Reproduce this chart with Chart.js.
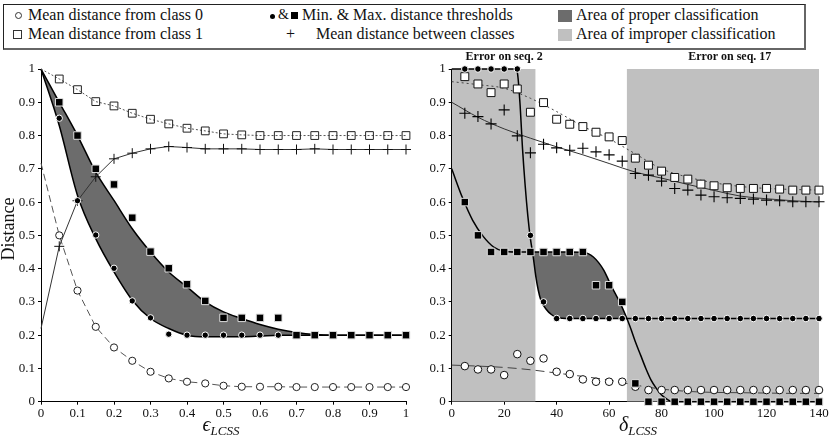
<!DOCTYPE html>
<html>
<head>
<meta charset="utf-8">
<title>LCSS distance thresholds</title>
<script src="https://cdn.jsdelivr.net/npm/chart.js@4.4.1/dist/chart.umd.min.js"></script>
<style>
  html, body { margin: 0; padding: 0; background: #fff; }
  body { position: relative; width: 830px; height: 437px; overflow: hidden; font-family: "Liberation Serif", "Times New Roman", serif; color: #111; }
  .panel { position: absolute; top: 0; width: 415px; height: 437px; }
  .box { position: absolute; left: 3px; top: 4px; width: 800px; height: 43px; border: 1px solid #222; border-right: 2px solid #666; border-bottom: 2px solid #666; }
  .lab { position: absolute; font-size: 16px; line-height: 18px; white-space: nowrap; }
  .sym { position: absolute; box-sizing: border-box; }
  .xtitle { position: absolute; width: 120px; text-align: center; white-space: nowrap; font-style: italic; font-size: 20px; line-height: 20px; }
  .xtitle sub { font-size: 13px; vertical-align: -4px; }
  .ytitle { position: absolute; width: 90px; text-align: center; font-size: 18px; line-height: 20px; transform: rotate(-90deg); }
</style>
</head>
<body>
<div class="box"></div>
<span class="sym" style="left:15px;top:12px;width:7px;height:7px;border:1px solid #333;border-radius:50%"></span>
<span class="lab" style="left:28px;top:6px">Mean distance from class 0</span>
<span class="sym" style="left:13px;top:30px;width:9px;height:9px;border:1px solid #333"></span>
<span class="lab" style="left:28px;top:25px">Mean distance from class 1</span>
<span class="sym" style="left:270px;top:14px;width:5px;height:5px;background:#000;border-radius:50%"></span>
<span class="lab" style="left:278px;top:6px;font-size:14px">&amp;</span>
<span class="sym" style="left:291px;top:12px;width:7px;height:7px;background:#000"></span>
<span class="lab" style="left:302px;top:6px">Min. &amp; Max. distance thresholds</span>
<span class="lab" style="left:286px;top:25px">+</span>
<span class="lab" style="left:316px;top:25px">Mean distance between classes</span>
<span class="sym" style="left:558px;top:10px;width:14px;height:12px;background:#6c6c6c"></span>
<span class="lab" style="left:576px;top:6px">Area of proper classification</span>
<span class="sym" style="left:558px;top:29px;width:14px;height:12px;background:#c0c0c0"></span>
<span class="lab" style="left:576px;top:25px">Area of improper classification</span>

<div class="panel" style="left:0"><canvas id="epsChart" width="415" height="437"></canvas></div>
<div class="panel" style="left:415px"><canvas id="deltaChart" width="415" height="437"></canvas></div>

<div class="ytitle" style="left:-37px;top:219px">Distance</div>
<div class="xtitle" style="left:161px;top:414px">&#x3F5;<sub>LCSS</sub></div>
<div class="xtitle" style="left:578px;top:414px">&delta;<sub>LCSS</sub></div>

<script>
// ---- left panel: epsilon_LCSS ----
const epsX = [0, 0.05, 0.1, 0.15, 0.2, 0.25, 0.3, 0.35, 0.4, 0.45, 0.5, 0.55, 0.6, 0.65, 0.7, 0.75, 0.8, 0.85, 0.9, 0.95, 1];
const epsClass0 = [0.717, 0.50, 0.334, 0.225, 0.163, 0.123, 0.09, 0.07, 0.06, 0.055, 0.048, 0.045, 0.045, 0.045, 0.044, 0.044, 0.044, 0.044, 0.044, 0.044, 0.044];
const epsClass1 = [1.0, 0.97, 0.938, 0.902, 0.889, 0.867, 0.849, 0.835, 0.822, 0.814, 0.805, 0.802, 0.80, 0.80, 0.80, 0.80, 0.80, 0.80, 0.80, 0.80, 0.80];
const epsBetween = [0.22, 0.467, 0.604, 0.676, 0.73, 0.747, 0.76, 0.767, 0.764, 0.76, 0.76, 0.76, 0.758, 0.758, 0.758, 0.76, 0.758, 0.758, 0.758, 0.758, 0.758];
const epsMin = [null, 0.852, 0.604, 0.501, 0.401, 0.303, 0.252, 0.203, 0.2, 0.2, 0.2, 0.2, 0.2, 0.2, 0.2, 0.2, 0.2, 0.2, 0.2, 0.2, 0.2];
const epsMax = [null, 0.9, 0.8, 0.7, 0.653, 0.553, 0.451, 0.401, 0.353, 0.303, 0.252, 0.252, 0.252, 0.252, 0.2, 0.2, 0.2, 0.2, 0.2, 0.2, 0.2];
// fitted threshold curves bounding the proper-classification area
const epsLower = [1.0, 0.83, 0.62, 0.49, 0.39, 0.305, 0.25, 0.22, 0.2, 0.195, 0.195, 0.195, 0.197, 0.2, 0.2, 0.2, 0.2, 0.2, 0.2, 0.2, 0.2];
const epsUpper = [1.0, 0.9, 0.8, 0.69, 0.605, 0.52, 0.45, 0.39, 0.345, 0.3, 0.27, 0.25, 0.232, 0.218, 0.208, 0.202, 0.2, 0.2, 0.2, 0.2, 0.2];

// ---- right panel: delta_LCSS ----
const deltaX = [5, 10, 15, 20, 25, 30, 35, 40, 45, 50, 55, 60, 65, 70, 75, 80, 85, 90, 95, 100, 105, 110, 115, 120, 125, 130, 135, 140];
const deltaClass0 = [0.107, 0.097, 0.097, 0.08, 0.143, 0.123, 0.13, 0.09, 0.083, 0.067, 0.06, 0.06, 0.06, 0.045, 0.035, 0.035, 0.035, 0.035, 0.035, 0.035, 0.035, 0.035, 0.035, 0.035, 0.035, 0.035, 0.035, 0.035];
const deltaClass1 = [0.977, 0.955, 0.929, 0.955, 0.94, 0.87, 0.899, 0.849, 0.834, 0.827, 0.81, 0.796, 0.785, 0.732, 0.711, 0.693, 0.674, 0.669, 0.654, 0.649, 0.643, 0.641, 0.641, 0.641, 0.639, 0.636, 0.636, 0.636];
const deltaBetween = [0.867, 0.857, 0.835, 0.877, 0.799, 0.748, 0.774, 0.763, 0.756, 0.762, 0.751, 0.742, 0.723, 0.686, 0.681, 0.663, 0.641, 0.636, 0.621, 0.616, 0.613, 0.611, 0.609, 0.606, 0.604, 0.601, 0.601, 0.601];
const deltaMin = [1, 1, 1, 1, 1, 0.5, 0.3, 0.25, 0.25, 0.25, 0.25, 0.25, 0.25, 0.25, 0.25, 0.25, 0.25, 0.25, 0.25, 0.25, 0.25, 0.25, 0.25, 0.25, 0.25, 0.25, 0.25, 0.25];
const deltaMax = [0.6, 0.5, 0.45, 0.45, 0.45, 0.45, 0.45, 0.45, 0.45, 0.45, 0.35, 0.35, 0.3, 0.055, 0, 0, 0, 0, 0, 0, 0, 0, 0, 0, 0, 0, 0, 0];

// fitted mean-distance curves
const deltaFitX = [0, 10, 20, 30, 40, 50, 60, 70, 80, 90, 100, 110, 120, 130, 140];
const deltaFitClass0 = [0.11, 0.107, 0.103, 0.096, 0.086, 0.076, 0.065, 0.05, 0.038, 0.031, 0.028, 0.027, 0.026, 0.025, 0.025];
const deltaFitClass1 = [0.962, 0.953, 0.942, 0.912, 0.872, 0.828, 0.79, 0.745, 0.70, 0.675, 0.658, 0.647, 0.641, 0.638, 0.636];
const deltaFitBetween = [0.90, 0.855, 0.82, 0.792, 0.766, 0.742, 0.716, 0.69, 0.672, 0.653, 0.635, 0.618, 0.61, 0.604, 0.60];

// fitted threshold curves
const deltaCurveX = [0, 4, 8, 12, 16, 20, 24, 25, 26, 27, 28, 29, 30, 31, 32, 33, 34, 36, 38, 40, 45, 50, 52, 54, 56, 58, 60, 62, 64, 66, 68, 70, 72, 74, 76, 78, 80, 82, 84, 90, 100, 110, 120, 130, 140];
const deltaLower = [1, 1, 1, 1, 1, 1, 1, 0.99, 0.9, 0.76, 0.65, 0.56, 0.49, 0.44, 0.38, 0.335, 0.305, 0.278, 0.262, 0.253, 0.25, 0.25,
  0.25, 0.25, 0.25, 0.25, 0.25, 0.25, 0.25, 0.25, 0.25, 0.25, 0.25, 0.25, 0.25, 0.25, 0.25, 0.25, 0.25, 0.25, 0.25, 0.25, 0.25, 0.25, 0.25];
const deltaUpper = [0.70, 0.615, 0.545, 0.497, 0.465, 0.452, 0.45, 0.45, 0.45, 0.45, 0.45, 0.45, 0.45, 0.45, 0.45, 0.45, 0.45, 0.45, 0.45, 0.45, 0.45, 0.449,
  0.445, 0.435, 0.418, 0.395, 0.362, 0.33, 0.30, 0.265, 0.225, 0.18, 0.14, 0.10, 0.065, 0.04, 0.02, 0.008, 0, 0, 0, 0, 0, 0, 0];

// misclassification zones and their captions
const errorZones = [[0, 32], [66.7, 140]];
const errorTexts = ['Error on seq. 2', 'Error on seq. 17'];
const errorTextX = [20, 106];

const yTicks = [0, 0.1, 0.2, 0.3, 0.4, 0.5, 0.6, 0.7, 0.8, 0.9, 1];

const DARK = '#6c6c6c';
const LIGHT = '#c0c0c0';

Chart.defaults.font.family = '"Liberation Serif", serif';
Chart.defaults.color = '#111';

function pts(xs, ys) {
    return xs.map((x, i) => ({ x: x, y: ys[i] }));
}

function axis(min, max, step, size, horizontal) {
    return {
        type: 'linear',
        min: min,
        max: max,
        afterFit: function(scale) {
            if (horizontal) scale.height = 35.3;
            else scale.width = size;
        },
        afterBuildTicks: horizontal ? undefined : function(scale) {
            scale.ticks = yTicks.map(v => ({ value: v }));
        },
        ticks: {
            stepSize: step,
            padding: horizontal ? 1 : 3,
            color: '#111',
            font: { size: 13 },
            callback: v => String(Math.round(v * 100) / 100)
        },
        grid: { display: true, drawOnChartArea: false, drawTicks: true, tickLength: 3, color: '#000' },
        border: { display: true, color: '#000', width: 1 }
    };
}

function curve(xs, ys, extra) {
    return Object.assign({
        data: pts(xs, ys),
        borderColor: '#000',
        borderWidth: 1.5,
        pointRadius: 0,
        fill: false,
        cubicInterpolationMode: 'monotone',
        clip: false
    }, extra);
}

function markers(xs, ys, extra) {
    return Object.assign({
        data: pts(xs, ys),
        showLine: false,
        borderWidth: 0,
        clip: false
    }, extra);
}

const errorLabels = {
    id: 'errorLabels',
    afterDraw(chart) {
        const { ctx, chartArea } = chart;
        const x = chart.scales.x;
        ctx.save();
        ctx.font = 'bold 12px "Liberation Serif"';
        ctx.fillStyle = '#111';
        ctx.textAlign = 'center';
        ctx.textBaseline = 'middle';
        errorTexts.forEach((t, i) => {
            ctx.fillText(t, x.getPixelForValue(errorTextX[i]), chartArea.top - 12);
        });
        ctx.restore();
    }
};

const baseOptions = (xAxis, yAxis, padRight) => ({
    responsive: false,
    animation: false,
    layout: { padding: { top: 69, right: padRight, left: 0, bottom: 0 } },
    plugins: { legend: { display: false }, tooltip: { enabled: false } },
    scales: { x: xAxis, y: yAxis }
});

// Left chart: epsilon
new Chart(document.getElementById('epsChart'), {
    type: 'line',
    data: {
        datasets: [
            curve(epsX, epsUpper, { fill: { target: 1, above: DARK, below: DARK }, backgroundColor: DARK, order: 9 }),
            curve(epsX, epsLower, { order: 8 }),
            {
                data: pts(epsX, epsClass1), borderColor: '#555', borderWidth: 1, borderDash: [2, 2],
                pointStyle: 'rect', pointRadius: c => c.dataIndex === 0 ? 0 : 5.5,
                pointBorderColor: '#222', pointBorderWidth: 1, pointBackgroundColor: 'rgba(255,255,255,0)',
                tension: 0, clip: false, order: 4
            },
            {
                data: pts(epsX, epsClass0), borderColor: '#555', borderWidth: 1, borderDash: [7, 4],
                pointStyle: 'circle', pointRadius: c => c.dataIndex === 0 ? 0 : 3.6,
                pointBorderColor: '#222', pointBorderWidth: 1, pointBackgroundColor: '#fff',
                tension: 0, clip: false, order: 3
            },
            {
                data: pts(epsX, epsBetween), borderColor: '#333', borderWidth: 1,
                pointStyle: 'cross', pointRadius: c => c.dataIndex === 0 ? 0 : 5,
                pointBorderColor: '#111', pointBorderWidth: 1,
                tension: 0, clip: false, order: 2
            },
            markers(epsX, epsMin, { pointStyle: 'circle', pointRadius: 3.2, pointBackgroundColor: '#000', pointBorderColor: '#fff', pointBorderWidth: 1, order: 1 }),
            markers(epsX, epsMax, { pointStyle: 'rect', pointRadius: 5.3, pointBackgroundColor: '#000', pointBorderColor: '#ddd', pointBorderWidth: 1, order: 0 })
        ]
    },
    options: baseOptions(axis(0, 1, 0.1, 41, true), axis(0, 1, 0.1, 41, false), 9)
});

// Right chart: delta
const zoneSets = errorZones.map(z => ({
    data: pts(z, [1, 1]), borderWidth: 0, pointRadius: 0, fill: 'origin',
    backgroundColor: LIGHT, clip: false, order: 20
}));

new Chart(document.getElementById('deltaChart'), {
    type: 'line',
    data: {
        datasets: zoneSets.concat([
            curve(deltaCurveX, deltaUpper, { fill: { target: 3, above: DARK, below: 'rgba(0,0,0,0)' }, backgroundColor: DARK, order: 12 }),
            curve(deltaCurveX, deltaLower, { order: 11 }),
            curve(deltaFitX, deltaFitClass1, { borderColor: '#444', borderWidth: 1, borderDash: [2, 3], order: 10 }),
            curve(deltaFitX, deltaFitBetween, { borderColor: '#333', borderWidth: 1, order: 10 }),
            curve(deltaFitX, deltaFitClass0, { borderColor: '#444', borderWidth: 1, borderDash: [9, 5], order: 10 }),
            markers(deltaX, deltaClass1, { pointStyle: 'rect', pointRadius: 5.6, pointBackgroundColor: '#fff', pointBorderColor: '#111', pointBorderWidth: 1, order: 4 }),
            markers(deltaX, deltaClass0, { pointStyle: 'circle', pointRadius: 3.8, pointBackgroundColor: '#fff', pointBorderColor: '#111', pointBorderWidth: 1, order: 3 }),
            markers(deltaX, deltaBetween, { pointStyle: 'cross', pointRadius: 5.5, pointBorderColor: '#000', pointBorderWidth: 1.1, order: 2 }),
            markers(deltaX, deltaMin, { pointStyle: 'circle', pointRadius: 3.3, pointBackgroundColor: '#000', pointBorderColor: '#fff', pointBorderWidth: 1, order: 1 }),
            markers(deltaX, deltaMax, { pointStyle: 'rect', pointRadius: 5.3, pointBackgroundColor: '#000', pointBorderColor: '#ddd', pointBorderWidth: 1, order: 0 })
        ])
    },
    options: baseOptions(axis(0, 140, 20, 36.7, true), axis(0, 1, 0.1, 36.7, false), 11),
    plugins: [errorLabels]
});
</script>
</body>
</html>
